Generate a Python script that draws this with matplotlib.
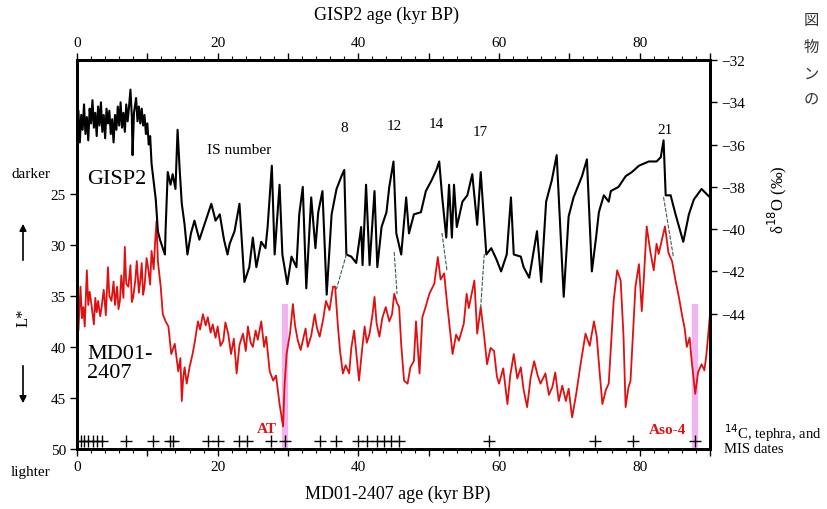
import matplotlib
matplotlib.use("Agg")
import matplotlib.pyplot as plt
from matplotlib.patches import ConnectionPatch
import numpy as np

plt.rcParams['font.family'] = ['Liberation Serif', 'DejaVu Serif']

# GISP2 d18O (per mil) vs GISP2 age (kyr BP)
gisp_age = [0.0, 0.2, 0.4, 0.6, 0.8, 1.0, 1.2, 1.4, 1.6, 1.8, 2.0, 2.2, 2.4, 2.6, 2.8,
            3.0, 3.2, 3.4, 3.6, 3.8, 4.0, 4.2, 4.4, 4.6, 4.8, 5.0, 5.2, 5.4, 5.6, 5.8,
            6.0, 6.2, 6.4, 6.6, 6.8, 7.0, 7.2, 7.4, 7.6, 7.8, 7.9, 8.1, 8.4, 8.6, 8.8,
            9.0, 9.2, 9.4, 9.6, 9.8, 10.0, 10.2, 10.4,
            10.6, 11.2, 11.5, 11.8, 12.5, 12.6, 12.9, 13.3, 13.6, 14.0, 14.3, 14.6, 14.9,
            15.3, 15.7, 16.2, 16.7, 17.4, 18.0, 18.6, 19.1, 19.7, 20.3, 20.9, 21.4, 21.7,
            22.4, 23.1, 23.8, 24.5, 25.0, 25.5, 26.2, 26.8, 27.1, 27.7, 28.1, 28.8, 29.2,
            29.9, 30.5, 31.2, 31.6, 32.1, 32.6, 33.3, 33.9, 34.3, 34.9, 35.5, 36.2, 36.9,
            37.6, 38.0, 38.3, 39.0, 39.7, 40.4, 40.6, 41.1, 41.6, 42.3, 42.7, 43.3, 44.0,
            44.4, 45.0, 45.4, 46.1, 46.8, 47.2, 47.9, 48.9, 49.6, 50.4, 51.1, 51.5, 51.9,
            52.5, 52.9, 53.3, 53.6, 54.0, 54.8, 55.5, 56.2, 56.9, 57.4, 58.2, 58.9, 59.6,
            60.3, 61.1, 61.7, 62.1, 63.1, 63.5, 64.3, 65.4, 66.0, 66.7, 67.5, 68.2, 69.2,
            69.9, 70.6, 71.8, 72.5, 73.2, 73.8, 74.2, 74.9, 75.6, 75.9, 77.0, 78.0, 78.9,
            79.9, 81.3, 82.4, 83.0, 83.4, 83.7, 84.4, 85.1, 86.2, 87.0, 87.7, 88.8, 90.0]
gisp_d18o = [-35.6, -34.4, -35.9, -34.6, -35.3, -34.1, -35.5, -34.7, -35.8, -34.3, -35.0,
             -33.9, -35.2, -34.5, -35.6, -34.2, -35.1, -34.0, -35.4, -34.6, -35.7, -34.3,
             -35.0, -34.4, -35.5, -34.8, -35.9, -34.6, -35.3, -34.2, -35.1, -34.0, -35.2,
             -34.5, -35.4, -34.1, -34.9, -34.2, -33.4, -34.7, -36.5, -34.5, -33.8, -34.9,
             -34.2, -35.0, -34.3, -35.1, -34.6, -35.5, -35.0, -36.0, -35.6,
             -36.9, -38.6, -40.1, -40.5, -41.2, -40.0, -37.3, -37.9, -37.4, -38.1, -35.3,
             -37.2, -38.8, -39.8, -41.2, -40.2, -39.6, -40.5, -39.9, -39.3, -38.8, -39.6,
             -39.3, -40.5, -41.2, -40.7, -40.1, -38.8, -42.5, -41.8, -40.4, -41.8, -40.6,
             -40.9, -39.9, -37.0, -41.2, -37.9, -41.2, -42.6, -41.3, -41.8, -39.3, -38.0,
             -42.8, -38.5, -40.9, -39.2, -38.2, -43.1, -39.3, -38.1, -37.5, -37.2, -41.2,
             -41.3, -41.6, -39.9, -41.7, -37.9, -41.7, -38.2, -41.8, -39.9, -39.2, -38.0,
             -36.8, -40.2, -41.2, -38.5, -40.2, -39.3, -39.2, -38.2, -37.7, -37.2, -36.8,
             -38.4, -40.4, -37.9, -40.4, -37.9, -39.9, -38.7, -38.4, -37.4, -39.8, -37.3,
             -41.2, -40.9, -41.4, -42.0, -41.2, -38.5, -41.2, -41.3, -41.8, -42.3, -40.1,
             -42.5, -38.7, -37.7, -36.5, -43.2, -39.4, -38.5, -37.5, -36.7, -42.0, -40.4,
             -39.2, -38.4, -38.7, -38.2, -38.0, -37.5, -37.3, -37.0, -36.8, -36.8, -36.6,
             -35.8, -38.4, -38.4, -39.3, -40.6, -39.3, -38.6, -38.1, -38.5]

# MD01-2407 L* vs MD01-2407 age (kyr BP)
md_age = [0.0, 0.2, 0.5, 0.7, 0.9, 1.1, 1.4, 1.6, 1.8, 2.1, 2.4, 2.6, 2.8, 3.0, 3.3,
          3.5, 3.8, 4.1, 4.4, 4.6, 4.9, 5.2, 5.4, 5.7, 5.9, 6.1, 6.3, 6.6, 6.8, 7.0,
          7.3, 7.6, 7.8, 8.0, 8.3, 8.5, 8.8, 9.0, 9.2, 9.4, 9.6, 9.9, 10.1, 10.4, 10.6,
          10.9, 11.1, 11.3, 11.5, 11.9, 12.2, 12.6, 13.0, 13.4, 13.9, 14.4, 14.7, 14.9,
          15.1, 15.3, 15.6, 16.0, 16.4, 16.7, 17.2, 17.5, 17.9, 18.3, 18.6, 19.0, 19.3,
          19.7, 20.0, 20.4, 20.8, 21.1, 21.5, 21.9, 22.3, 22.7, 23.1, 23.6, 24.0, 24.3,
          24.7, 25.0, 25.4, 25.7, 26.2, 26.6, 26.9, 27.4, 27.9, 28.3, 28.8, 29.3, 29.5,
          29.8, 30.3, 30.7, 31.0, 31.4, 31.8, 32.1, 32.5, 32.8, 33.3, 33.8, 34.1, 34.5,
          35.0, 35.4, 35.9, 36.4, 36.7, 37.1, 37.4, 37.8, 38.2, 38.7, 39.0, 39.4, 39.8,
          40.1, 40.5, 40.9, 41.2, 41.6, 42.0, 42.3, 42.6, 43.0, 43.4, 43.9, 44.4, 44.8,
          45.1, 45.5, 45.8, 46.1, 46.5, 47.0, 47.4, 47.9, 48.2, 48.7, 49.1, 49.6, 50.1,
          50.8, 51.3, 51.7, 52.2, 52.6, 52.9, 53.4, 53.9, 54.3, 55.0, 55.4, 55.7,
          56.5, 56.9, 57.4, 57.9, 58.3, 58.8, 59.3, 59.7, 60.0, 60.6, 61.2, 61.6,
          62.1, 62.6, 63.1, 63.5, 64.0, 64.5, 65.0, 65.5, 65.9, 66.6, 67.1, 67.6, 68.0,
          68.5, 69.0, 69.5, 69.9, 70.4, 71.0, 71.6, 72.3, 72.9, 73.5, 73.9, 74.3, 74.7,
          75.2, 75.6, 76.3, 76.8, 77.3, 77.7, 78.0, 78.4, 78.7, 79.4, 79.9, 80.3, 80.6,
          81.0, 81.5, 82.0, 82.4, 82.7, 83.2, 83.6, 84.1, 84.6, 85.1, 85.6, 86.0, 86.4,
          86.7, 87.1, 87.4, 87.9, 88.3, 88.8, 89.2, 89.5, 90.0]
md_lstar = [36.8, 38.4, 34.1, 37.2, 36.1, 38.0, 32.5, 35.9, 34.6, 36.1, 37.8, 35.2, 36.6,
            35.5, 37.0, 36.1, 34.4, 36.9, 32.2, 35.0, 35.5, 33.6, 35.9, 34.1, 36.3, 35.5,
            33.0, 35.2, 30.2, 33.8, 34.1, 32.0, 35.6, 35.1, 33.4, 31.6, 34.7, 33.5, 31.8,
            34.9, 34.1, 31.3, 32.2, 33.9, 30.6, 32.4, 29.8, 27.7, 31.6, 34.1, 36.8, 37.5,
            38.0, 40.7, 39.7, 42.4, 41.1, 45.3, 43.0, 42.0, 43.6, 42.0, 40.8, 39.7, 37.5,
            38.3, 36.8, 37.9, 37.1, 38.6, 37.8, 39.1, 38.0, 39.9, 39.4, 37.6, 38.7, 40.7,
            39.2, 42.6, 39.8, 38.7, 40.4, 38.0, 39.6, 40.0, 38.4, 39.3, 37.5, 40.0, 39.0,
            42.4, 43.3, 42.8, 45.6, 47.8, 43.9, 40.7, 38.6, 35.8, 37.9, 39.4, 40.3, 39.4,
            38.2, 40.0, 38.9, 36.8, 38.1, 39.0, 37.3, 35.5, 36.4, 34.1, 34.1, 38.0, 40.4,
            42.6, 41.8, 42.6, 40.1, 38.4, 41.2, 43.3, 40.5, 38.0, 39.6, 38.7, 36.9, 35.1,
            37.7, 39.0, 37.2, 36.1, 37.5, 36.8, 34.8, 35.7, 36.1, 39.8, 43.3, 43.6, 42.0,
            41.4, 37.5, 42.6, 37.1, 36.0, 34.8, 33.8, 31.2, 33.4, 32.8, 35.6, 37.5, 40.7,
            38.8, 39.4, 37.7, 34.8, 36.2, 33.5, 38.7, 36.1, 39.0, 41.7, 40.1, 40.4, 42.9,
            43.6, 42.1, 45.6, 42.8, 40.7, 43.1, 42.0, 44.2, 45.9, 43.0, 41.4, 42.8, 43.6,
            42.6, 44.7, 43.9, 42.5, 45.3, 43.8, 45.3, 44.1, 46.9, 44.5, 41.7, 38.7, 39.9,
            37.5, 39.0, 42.4, 45.6, 44.2, 43.6, 35.5, 32.5, 33.5, 38.9, 45.9, 44.0, 43.3,
            34.1, 31.9, 36.5, 33.2, 28.2, 30.6, 32.5, 29.9, 30.9, 29.4, 28.2, 30.8, 31.6,
            33.5, 35.2, 36.8, 38.2, 40.0, 39.1, 41.4, 44.6, 42.5, 41.7, 42.3, 40.7, 36.8]

# radiometric / tephra / MIS tie points (MD01-2407 age)
date_age = [0.5, 1.0, 1.5, 2.3, 2.8, 3.6, 7.0, 10.8, 13.2, 13.7, 18.6, 20.0, 23.1,
            24.1, 27.6, 29.6, 34.5, 36.8, 39.9, 41.3, 42.7, 43.7, 44.7, 45.8, 58.6,
            73.7, 79.1, 87.9]

# tephra layers
tephra_names = ['AT', 'Aso-4']
tephra_age = [29.6, 87.8]

# correlation tie lines: (GISP2 age, d18O) -> (MD01 age, L*)
tie_gisp = [(38.3, -41.2), (45.1, -41.1), (51.9, -40.2), (57.9, -41.2), (83.4, -38.5)]
tie_md = [(36.9, 34.3), (45.5, 34.8), (52.6, 32.5), (57.4, 36.1), (84.8, 31.2)]

# interstadial numbers
is_labels = ['8', '12', '14', '17', '21']
is_age = [38.0, 45.1, 51.1, 57.3, 83.6]
is_d18o = [-35.2, -35.1, -35.0, -35.4, -35.3]

W, H = 827, 510
fig = plt.figure(figsize=(W / 100, H / 100), dpi=100)
ax = fig.add_axes([77 / W, 1 - 450 / H, (710 - 77) / W, (450 - 61) / H])
ax2 = ax.twinx()

red = '#e01010'
pink = '#f2b4f0'

# tephra bars
for a in tephra_age:
    ax.vlines(a, 35.8, 50, color=pink, lw=4.5, zorder=1)

ax.plot(md_age, md_lstar, color=red, lw=1.3, zorder=3)
ax2.plot(gisp_age, gisp_d18o, color='black', lw=1.5, zorder=3)

ax.plot(date_age, [49.2] * len(date_age), ls='none', marker='+', ms=9,
        mew=1.0, color='black', zorder=4)

for (ga, gd), (ma, ml) in zip(tie_gisp, tie_md):
    con = ConnectionPatch(xyA=(ga, gd), coordsA=ax2.transData,
                          xyB=(ma, ml), coordsB=ax.transData,
                          ls=(0, (3, 2)), lw=0.8, color='#3a5a5a')
    fig.add_artist(con)

ax.set_xlim(0, 90)
ax.set_ylim(50, 11.9)
ax2.set_ylim(-50.4, -32)

ax.set_yticks([25, 30, 35, 40, 45, 50])
ax2.set_yticks([-32, -34, -36, -38, -40, -42, -44])
ax.set_xticks(range(0, 91, 10))
ax.set_xticklabels([str(v) if v % 20 == 0 else '' for v in range(0, 91, 10)])
ax.xaxis.set_minor_locator(plt.MultipleLocator(2))

top = ax.secondary_xaxis('top')
top.set_xticks(range(0, 91, 10))
top.set_xticklabels([str(v) if v % 20 == 0 else '' for v in range(0, 91, 10)])
top.xaxis.set_minor_locator(plt.MultipleLocator(2))

for a in (ax, ax2, top):
    a.tick_params(which='major', direction='out', length=5, width=1.0,
                  labelsize=11, pad=3)
    a.tick_params(which='minor', direction='out', length=3, width=0.8)
for sp in ax.spines.values():
    sp.set_linewidth(2.0)
for sp in ax2.spines.values():
    sp.set_linewidth(2.0)
top.spines['top'].set_linewidth(2.0)


def ftext(x, y, s, **kw):
    fig.text(x / W, 1 - y / H, s, **kw)


ftext(386, 15, 'GISP2 age (kyr BP)', ha='center', va='center', fontsize=13)
ftext(398, 494, 'MD01-2407 age (kyr BP)', ha='center', va='center', fontsize=13)
ftext(31, 175, 'darker', ha='center', va='center', fontsize=11)
ftext(31, 473, 'lighter', ha='center', va='center', fontsize=11)
ftext(24, 318, 'L*', ha='center', va='center', fontsize=12, rotation=90)
ftext(777, 200, 'δ$^{18}$O (‰)', ha='center', va='center', fontsize=12, rotation=90)
ftext(724, 433, '$^{14}$C, tephra, and', ha='left', va='center', fontsize=10.5)
ftext(724, 450, 'MIS dates', ha='left', va='center', fontsize=10.5)

fig.add_artist(plt.Annotation('', xy=(23 / W, 1 - 222 / H), xytext=(23 / W, 1 - 264 / H),
                              xycoords='figure fraction', textcoords='figure fraction',
                              arrowprops=dict(arrowstyle='-|>', color='black', lw=1.2,
                                              mutation_scale=10)))
fig.add_artist(plt.Annotation('', xy=(23 / W, 1 - 407 / H), xytext=(23 / W, 1 - 364 / H),
                              xycoords='figure fraction', textcoords='figure fraction',
                              arrowprops=dict(arrowstyle='-|>', color='black', lw=1.2,
                                              mutation_scale=10)))

jp = ['Noto Sans CJK JP', 'DejaVu Sans']
for yy, s in zip([21, 47, 74, 100], ['図', '物', 'ン', 'の']):
    ftext(804, yy, s, ha='left', va='center', fontsize=11, family=jp, color='#333333')

ftext(87, 180, 'GISP2', ha='left', va='center', fontsize=16)
ftext(87, 364, 'MD01-\n2407', ha='left', va='center', fontsize=16, linespacing=1.05)
ftext(207, 150, 'IS number', ha='left', va='center', fontsize=11)
for lab, a, d in zip(is_labels, is_age, is_d18o):
    ax2.text(a, d, lab, ha='center', va='center', fontsize=11)

ax.text(27.0, 48.0, tephra_names[0], color=red, fontsize=11, fontweight='bold',
        ha='center', va='center')
ax.text(84.0, 48.1, tephra_names[1], color=red, fontsize=11, fontweight='bold',
        ha='center', va='center')

fig.savefig('out.png', dpi=100)
